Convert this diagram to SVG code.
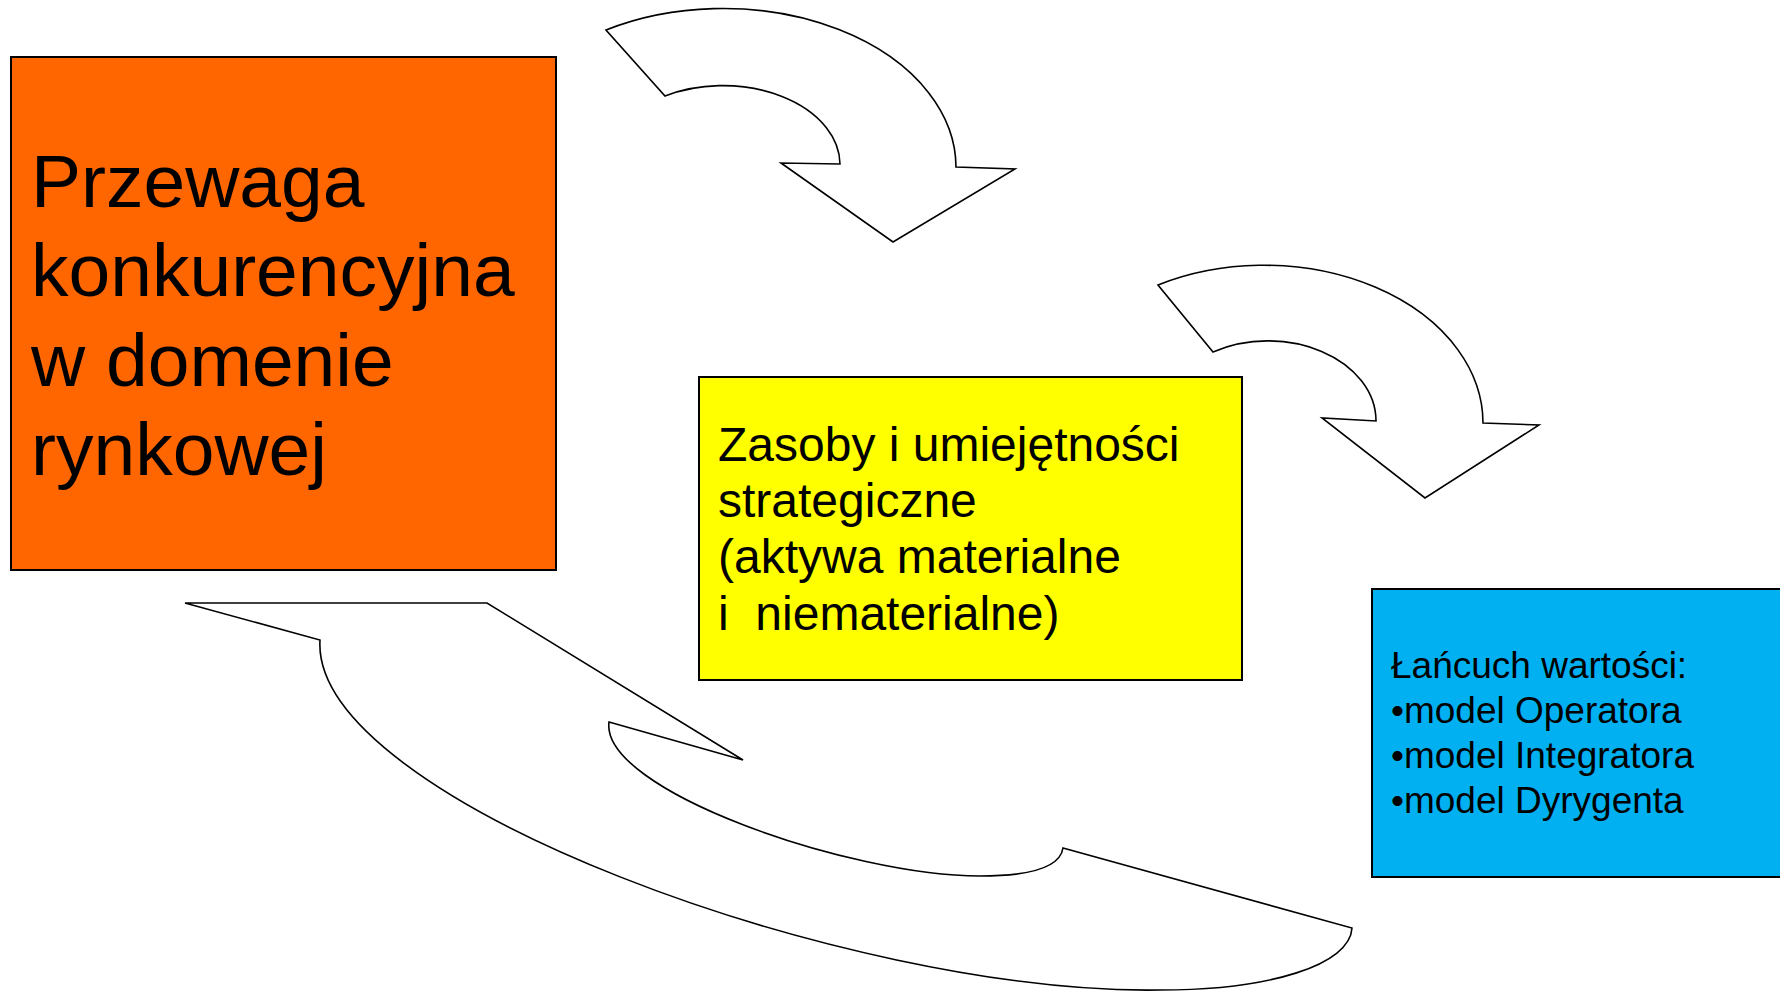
<svg xmlns="http://www.w3.org/2000/svg" width="1780" height="992" viewBox="0 0 1780 992">
<style>
  .box { stroke: #000; stroke-width: 2; }
  .arrow { fill: #fff; stroke: #000; stroke-width: 1.6; stroke-linejoin: miter; }
  .t { font-family: "Liberation Sans", Arial, sans-serif; fill: #000; }
  .big { font-size: 75px; }
  .mid { font-size: 48px; }
  .small { font-size: 37px; }
</style>
<rect width="1780" height="992" fill="#fff"/>
<g id="connectors">
  <path class="arrow" d="M606,30 A233,159 0 0 1 956,167 L1015,169 L893,242 L781,163 L840,164 A117,79 0 0 0 665,96 Z"/>
  <path class="arrow" d="M1158,285 A219,158 0 0 1 1483,423 L1539,425 L1425,498 L1322,418 L1376,421 A108,80 0 0 0 1213,352 Z"/>
  <path class="arrow" d="M185,603 L487,603 L743,760 L609,722 C600,790 850,876 980,876 C1030,876 1060,868 1063,848 L1352,928 C1350,965 1270,990 1160,990 C850,995 310,800 320,640 Z"/>
</g>
<g id="node-przewaga">
  <rect class="box" x="11" y="57" width="545" height="513" fill="#FF6600"/>
  <text class="t big" x="31" y="207">Przewaga</text>
  <text class="t big" x="31" y="296">konkurencyjna</text>
  <text class="t big" x="31" y="386">w domenie</text>
  <text class="t big" x="31" y="475">rynkowej</text>
</g>
<g id="node-zasoby">
  <rect class="box" x="699" y="377" width="543" height="303" fill="#FFFF00"/>
  <text class="t mid" x="718" y="461">Zasoby i umiejętności</text>
  <text class="t mid" x="718" y="517">strategiczne</text>
  <text class="t mid" x="718" y="573">(aktywa materialne</text>
  <text class="t mid" x="718" y="630" xml:space="preserve" style="white-space:pre">i  niematerialne)</text>
</g>
<g id="node-lancuch">
  <rect class="box" x="1372" y="589" width="420" height="288" fill="#00B0F0"/>
  <text class="t small" x="1391" y="678">Łańcuch wartości:</text>
  <text class="t small" x="1391" y="723">•model Operatora</text>
  <text class="t small" x="1391" y="768">•model Integratora</text>
  <text class="t small" x="1391" y="813">•model Dyrygenta</text>
</g>
</svg>
